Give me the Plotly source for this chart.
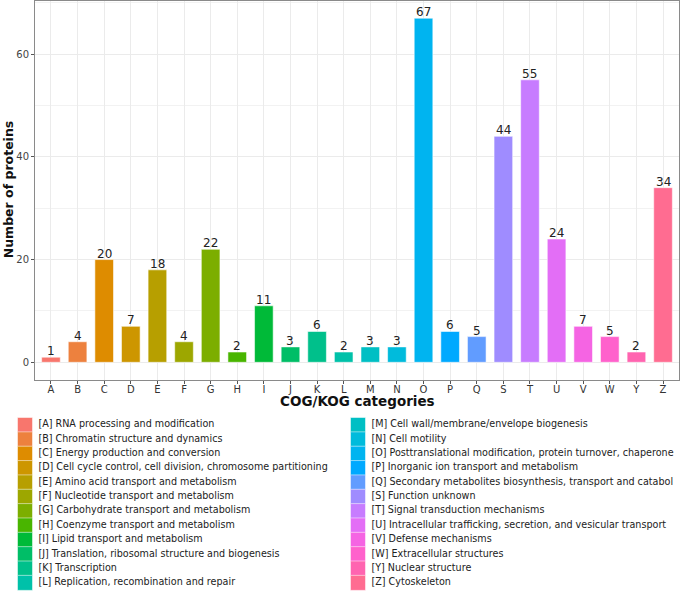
import math
import plotly.graph_objects as go

categories = ["A", "B", "C", "D", "E", "F", "G", "H", "I", "J", "K", "L",
              "M", "N", "O", "P", "Q", "S", "T", "U", "V", "W", "Y", "Z"]
counts = [1, 4, 20, 7, 18, 4, 22, 2, 11, 3, 6, 2,
          3, 3, 67, 6, 5, 44, 55, 24, 7, 5, 2, 34]
descriptions = [
    "RNA processing and modification",
    "Chromatin structure and dynamics",
    "Energy production and conversion",
    "Cell cycle control, cell division, chromosome partitioning",
    "Amino acid transport and metabolism",
    "Nucleotide transport and metabolism",
    "Carbohydrate transport and metabolism",
    "Coenzyme transport and metabolism",
    "Lipid transport and metabolism",
    "Translation, ribosomal structure and biogenesis",
    "Transcription",
    "Replication, recombination and repair",
    "Cell wall/membrane/envelope biogenesis",
    "Cell motility",
    "Posttranslational modification, protein turnover, chaperone",
    "Inorganic ion transport and metabolism",
    "Secondary metabolites biosynthesis, transport and catabol",
    "Function unknown",
    "Signal transduction mechanisms",
    "Intracellular trafficking, secretion, and vesicular transport",
    "Defense mechanisms",
    "Extracellular structures",
    "Nuclear structure",
    "Cytoskeleton",
]
y_ticks = [0, 20, 40, 60]
x_title = "COG/KOG categories"
y_title = "Number of proteins"


def hcl_hex(h, c=100.0, l=65.0):
    # polar LUV -> sRGB (as R's hcl())
    xn, yn, zn = 95.047, 100.0, 108.883
    un = 4 * xn / (xn + 15 * yn + 3 * zn)
    vn = 9 * yn / (xn + 15 * yn + 3 * zn)
    u = c * math.cos(math.radians(h))
    v = c * math.sin(math.radians(h))
    Y = yn * (((l + 16) / 116) ** 3 if l > 7.999592 else l / 903.3)
    uu = u / (13 * l) + un
    vv = v / (13 * l) + vn
    X = 9.0 * Y * uu / (4 * vv)
    Z = -X / 3 - 5 * Y + 3 * Y / vv
    X, Y, Z = X / 100, Y / 100, Z / 100
    r = 3.240479 * X - 1.537150 * Y - 0.498535 * Z
    g = -0.969256 * X + 1.875992 * Y + 0.041556 * Z
    b = 0.055648 * X - 0.204043 * Y + 1.057311 * Z

    def gam(t):
        t = 12.92 * t if t <= 0.0031308 else 1.055 * t ** (1 / 2.4) - 0.055
        return max(0, min(255, round(255 * t)))
    return "#%02X%02X%02X" % (gam(r), gam(g), gam(b))


n = len(categories)
colors = [hcl_hex(15 + 360 * i / n) for i in range(n)]

W, H = 685, 591
fig = go.Figure()

# main bars
fig.add_trace(go.Bar(
    x=categories, y=counts, width=0.7,
    marker=dict(color=colors, line=dict(color="rgba(255,255,255,0.55)", width=1)),
    showlegend=False, hoverinfo="x+y",
    xaxis="x", yaxis="y",
))

# value labels above bars
for c, v in zip(categories, counts):
    fig.add_annotation(
        x=c, y=v, xref="x", yref="y", text=str(v), showarrow=False,
        yanchor="bottom", yshift=-3,
        font=dict(family="DejaVu Sans", size=12, color="#222222"),
    )

# legend drawn as a small scatter panel (two columns of 12)
rows_per_col = 12
leg_col = [i // rows_per_col for i in range(n)]
leg_row = [i % rows_per_col for i in range(n)]
leg_text = ["[%s] %s" % (c, d) for c, d in zip(categories, descriptions)]
fig.add_trace(go.Scatter(
    x=leg_col, y=leg_row, mode="markers+text",
    marker=dict(symbol="square", size=15, color=colors,
                line=dict(color="white", width=0.5)),
    text=[" " + t for t in leg_text], textposition="middle right",
    textfont=dict(family="DejaVu Sans", size=9.6, color="#222222"),
    cliponaxis=False, showlegend=False, hoverinfo="skip",
    xaxis="x2", yaxis="y2",
))

# layout geometry (window pixels)
px_left, px_right, px_top, px_bottom = 35, 679, 1, 379.5
col0_px, col_gap_px = 25, 333
row0_px, row_gap_px = 425, 14.35
leg_top_px = 407

# axis titles
fig.add_annotation(
    x=8 / W, y=1 - ((px_top + px_bottom) / 2) / H, xref="paper", yref="paper",
    text="<b>%s</b>" % y_title, textangle=-90, showarrow=False,
    xanchor="center", yanchor="middle",
    font=dict(family="DejaVu Sans", size=12.5, color="#111111"),
)
fig.add_annotation(
    x=((px_left + px_right) / 2) / W, y=1 - 400.5 / H, xref="paper", yref="paper",
    text="<b>%s</b>" % x_title, showarrow=False, borderpad=0,
    xanchor="center", yanchor="middle",
    font=dict(family="DejaVu Sans", size=13.5, color="#111111"),
)

fig.update_layout(
    width=W, height=H,
    margin=dict(l=0, r=0, t=0, b=0, autoexpand=False),
    paper_bgcolor="white", plot_bgcolor="white",
    font=dict(family="DejaVu Sans", color="#222222"),
    xaxis=dict(
        domain=[px_left / W, px_right / W],
        anchor="y", automargin=False,
        type="category", range=[-0.6, n - 0.4],
        showgrid=True, gridcolor="#EBEBEB", gridwidth=1,
        showline=True, linecolor="#8a8a8a", linewidth=1, mirror=True,
        ticks="outside", ticklen=3, tickcolor="#555555",
        ticklabelstandoff=-3,
        tickfont=dict(family="DejaVu Sans", size=10, color="#333333"),
        zeroline=False, fixedrange=True,
    ),
    yaxis=dict(
        domain=[1 - px_bottom / H, 1 - px_top / H],
        anchor="x", automargin=False,
        range=[-3.35, 70.35],
        tickvals=y_ticks, ticktext=[str(v) for v in y_ticks],
        showgrid=True, gridcolor="#EBEBEB", gridwidth=1,
        minor=dict(dtick=10, showgrid=True, gridcolor="#F2F2F2", gridwidth=1),
        showline=True, linecolor="#8a8a8a", linewidth=1, mirror=True,
        ticks="outside", ticklen=3, tickcolor="#555555",
        tickfont=dict(family="DejaVu Sans", size=10, color="#444444"),
        zeroline=False, fixedrange=True,
    ),
    xaxis2=dict(
        domain=[0, 1], anchor="y2", automargin=False,
        range=[-col0_px / col_gap_px, (W - col0_px) / col_gap_px],
        visible=False, fixedrange=True,
    ),
    yaxis2=dict(
        domain=[0, 1 - leg_top_px / H], anchor="x2", automargin=False,
        range=[(H - row0_px) / row_gap_px, (leg_top_px - row0_px) / row_gap_px],
        visible=False, fixedrange=True,
    ),
)

fig.write_html(
    "out.html",
    config={"displayModeBar": False},
    post_script="document.body.style.margin='0px';document.body.style.overflow='hidden';",
)
